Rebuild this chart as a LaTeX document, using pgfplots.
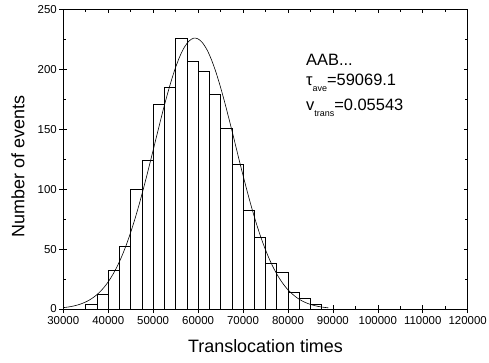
\documentclass[border=0pt]{standalone}
\usepackage{fontspec}
\setmainfont{Liberation Sans}
\usepackage{pgfplots}
\pgfplotsset{compat=1.18}
\begin{document}
\begin{tikzpicture}[x=1bp,y=1bp]
\useasboundingbox (-63.3,-53) rectangle (425.7,309);
\begin{axis}[
  scale only axis, width=404.4bp, height=299.7bp,
  xmin=30000, xmax=120000, ymin=0, ymax=250,
  xtick={30000,40000,...,120000}, minor x tick num=1,
  ytick={0,50,...,250}, minor y tick num=1,
  tick align=inside, major tick length=4bp, minor tick length=3bp,
  tick style={black, line width=0.6pt},
  scaled ticks=false,
  /pgf/number format/fixed, /pgf/number format/1000 sep={},
  /pgf/number format/assume math mode=true,
  ticklabel style={font=\fontsize{11.5}{13}\selectfont},
  xticklabel style={yshift=-3.5bp},
  yticklabel style={xshift=-3bp},
  xlabel={Translocation times}, ylabel={Number of events},
  label style={font=\fontsize{18}{21}\selectfont},
  xlabel style={at={(axis description cs:0.5,-0.1235)}, anchor=center},
  ylabel style={at={(axis description cs:-0.112,0.475)}, anchor=center},
  axis line style={black, line width=0.6pt},
  clip=false,
]
\addplot[ybar interval, fill=white, draw=black, line width=0.6pt] coordinates {
(35000,4) (37500,12) (40000,32) (42500,52) (45000,100) (47500,124)
(50000,171) (52500,185) (55000,226) (57500,207) (60000,198) (62500,179)
(65000,151) (67500,121) (70000,82) (72500,60) (75000,38) (77500,31)
(80000,14) (82500,9) (85000,4) (87500,4)
};
\addplot[black, line width=0.6pt, smooth, no markers] coordinates {
(30000,1.13) (31000,1.61) (32000,2.27) (33000,3.16) (34000,4.35) (35000,5.90)
(36000,7.92) (37000,10.50) (38000,13.73) (39000,17.76) (40000,22.67)
(41000,28.61) (42000,35.62) (43000,43.84) (44000,53.27) (45000,63.96)
(46000,75.84) (47000,88.82) (48000,102.8) (49000,117.4) (50000,132.5)
(51000,147.7) (52000,162.7) (53000,176.9) (54000,190.0) (55000,201.6)
(56000,211.3) (57000,218.7) (58000,223.6) (59000,225.9) (60000,225.3)
(61000,222.0) (62000,216.1) (63000,207.7) (64000,197.2) (65000,184.9)
(66000,171.3) (67000,156.7) (68000,141.7) (69000,126.4) (70000,111.5)
(71000,97.1) (72000,83.5) (73000,70.9) (74000,59.5) (75000,49.4)
(76000,40.4) (77000,32.7) (78000,26.1) (79000,20.6) (80000,16.0)
(81000,12.4) (82000,9.39) (83000,7.05) (84000,5.23) (85000,3.83)
(86000,2.77) (87000,1.98) (88000,1.40) (89000,0.98)
};
\node[anchor=base west, font=\fontsize{16.5}{19}\selectfont, inner sep=0pt] at (axis cs:84000,203.5) {AAB...};
\node[anchor=base west, font=\fontsize{16.5}{19}\selectfont, inner sep=0pt] at (axis cs:84000,186.8) {τ\raisebox{-0.4em}{\fontsize{9}{10}\selectfont ave}=59069.1};
\node[anchor=base west, font=\fontsize{16.5}{19}\selectfont, inner sep=0pt] at (axis cs:84000,166) {v\raisebox{-0.4em}{\fontsize{9}{10}\selectfont trans}=0.05543};
\end{axis}
\begin{axis}[
  scale only axis, width=404.4bp, height=299.7bp,
  xmin=30000, xmax=120000, ymin=0, ymax=250,
  xtick={30000,40000,...,120000}, ytick={0,50,...,250},
  xticklabels={}, yticklabels={}, scaled ticks=false,
  tick pos=left, tick align=outside, major tick length=4bp,
  tick style={black, line width=0.6pt},
  axis line style={draw=none},
]
\end{axis}
\end{tikzpicture}
\end{document}
